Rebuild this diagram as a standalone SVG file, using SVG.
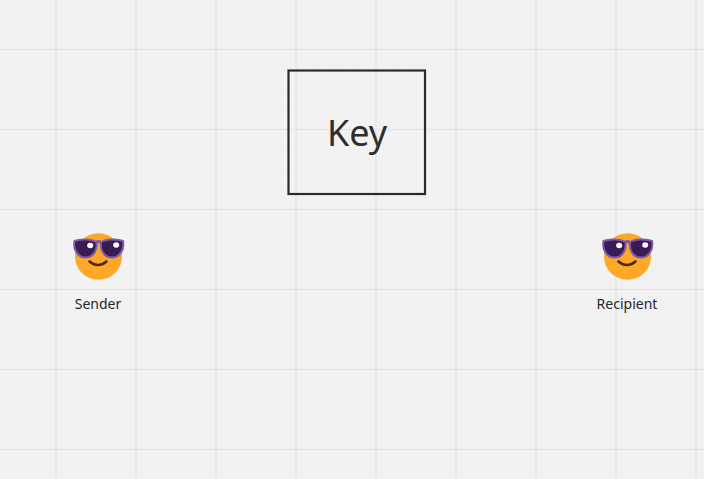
<svg xmlns="http://www.w3.org/2000/svg" width="704" height="479" viewBox="0 0 704 479">
<defs>
<pattern id="minor" width="20" height="20" patternUnits="userSpaceOnUse" x="6" y="-1">
<path d="M10 0V20M0 10.500H20" fill="none" stroke="#f0f0f0" stroke-width="1"/>
</pattern>
<pattern id="major" width="80" height="80" patternUnits="userSpaceOnUse" x="16" y="9">
<path d="M40 0V80" fill="none" stroke="#e9e9e9" stroke-width="2"/>
<path d="M0 40.500H80" fill="none" stroke="#e6e6e6" stroke-width="1.400"/>
</pattern>
<g id="emoji">
<ellipse cx="0" cy="0" rx="23.500" ry="23.300" fill="#ffa726"/>
<path d="M-2 -14.500Q0 -15.500 2 -14.500" fill="none" stroke="#7c5aae" stroke-width="3"/>
<path d="M-24 -15.500C-18 -18 -7 -17.500 -2 -14.500C-1 -7 -4.500 1 -13 1C-21.500 1 -25.500 -8 -24 -15.500Z" fill="#391c54" stroke="#7c5aae" stroke-width="2" stroke-linejoin="round"/>
<path d="M24.500 -15.500C18.500 -18 7.500 -17.500 2.500 -14.500C1.500 -7 5 1 13.500 1C22 1 26 -8 24.500 -15.500Z" fill="#391c54" stroke="#7c5aae" stroke-width="2" stroke-linejoin="round"/>
<ellipse cx="-8.300" cy="-11" rx="3" ry="2.800" fill="#fff"/>
<ellipse cx="17.700" cy="-11.500" rx="3" ry="2.800" fill="#fff"/>
<path d="M-9 5Q-0.500 12 8 5" fill="none" stroke="#4a2a22" stroke-width="2.600" stroke-linecap="round"/>
</g>
</defs>
<style>
text{font-family:"Noto Sans","Open Sans",sans-serif;fill:#262626;text-anchor:middle}
.label{font-size:14px}
.key{font-size:36px;fill:#2e2e2e}
</style>
<rect width="704" height="479" fill="#f2f2f2"/>
<rect width="704" height="479" fill="url(#minor)"/>
<rect width="704" height="479" fill="url(#major)"/>
<g id="connectors"/>
<g id="key">
<rect x="288.500" y="70.500" width="136.500" height="123.500" fill="none" stroke="#2b2b2b" stroke-width="2.200"/>
<text class="key" x="357" y="146">Key</text>
</g>
<g id="sender">
<use href="#emoji" x="98.500" y="256.500"/>
<text class="label" x="98" y="309">Sender</text>
</g>
<g id="recipient">
<use href="#emoji" x="627.500" y="256.500"/>
<text class="label" x="627" y="309">Recipient</text>
</g>
</svg>
